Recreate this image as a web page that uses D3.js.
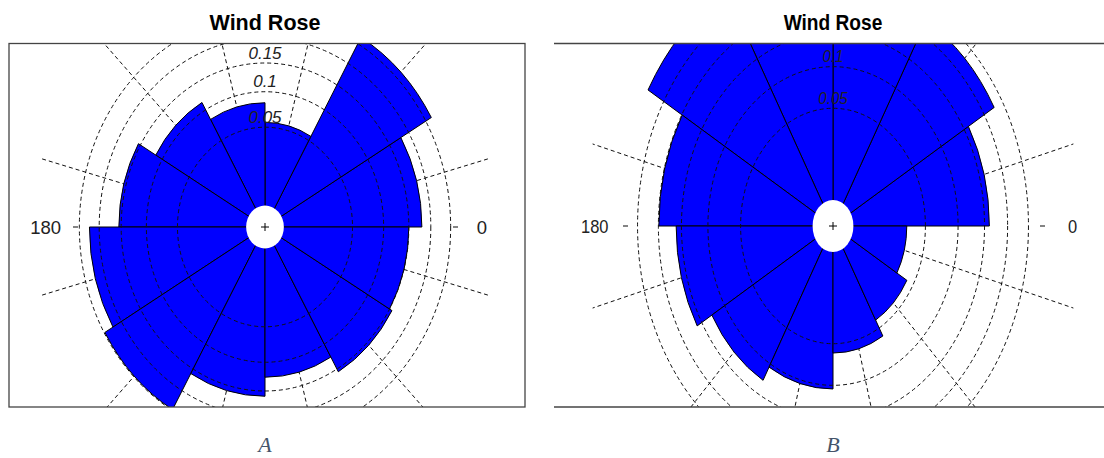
<!DOCTYPE html>
<html>
<head>
<meta charset="utf-8">
<script src="https://cdn.jsdelivr.net/npm/d3@7"></script>
<style>
  html, body { margin: 0; padding: 0; background: #fff; }
  svg { display: block; }
</style>
</head>
<body>
<svg id="chart" width="1104" height="458"></svg>
<script>
// Direction sectors (degrees, counter-clockwise from east), 30° wide
const sectorStarts = [0, 30, 60, 90, 120, 150, 180, 210, 240, 270, 300, 330];
const sectorWidth = 30;

// Relative frequency per sector for each station
const freqA = [0.179, 0.267, 0.056, 0.083, 0.114, 0.155, 0.224, 0.248, 0.160, 0.125, 0.156, 0.150];
const freqB = [0.160, 0.227, 0.310, 0.330, 0.297, 0.199, 0.161, 0.127, 0.105, 0.060, 0.041, 0.028];

// Frequency circles and their labels
const ringValues = [0.05, 0.1, 0.15, 0.2, 0.25];
const ringLabels = ["0.05", "0.1", "0.15", "0.2", "0.25"];

// Reference spokes at the sector centres
const spokeAngles = [15, 45, 75, 105, 135, 165, 195, 225, 255, 285, 315, 345];

// Direction labels on the horizontal axis
const axisLabels = ["0", "180"];

const titleText = "Wind Rose";
const panelCaptions = ["A", "B"];

const panels = [
  { freq: freqA, caption: panelCaptions[0], cx: 265, cy: 227, kx: 0.877, tx: 1.0,
    rRange: [31, 211.7], hole: 21.5, spoke: 264,
    box: { x0: 9, x1: 525, y0: 43.5, y1: 407 }, sides: true,
    tickIn: 187, tickOut: 192, rightTickIn: 188, rightTickOut: 193, labelRight: 217, labelLeft: 204 },
  { freq: freqB, caption: panelCaptions[1], cx: 833, cy: 226, kx: 0.785, tx: 0.89,
    rRange: [37, 249], hole: 26, spoke: 317,
    box: { x0: 554, x1: 1110, y0: 43.5, y1: 407 }, sides: false,
    tickIn: 205, tickOut: 210, rightTickIn: 207, rightTickOut: 212, labelRight: 239.5, labelLeft: 224.5 }
];

const ringFont = 17;
const svg = d3.select("#chart");
const toRad = d => d * Math.PI / 180;

panels.forEach((p, i) => {
  const r = d3.scalePow().exponent(0.6).domain([0, 0.25]).range(p.rRange);

  const clipId = "clip" + i;
  svg.append("clipPath").attr("id", clipId)
    .append("rect")
    .attr("x", p.box.x0).attr("y", p.box.y0)
    .attr("width", p.box.x1 - p.box.x0).attr("height", p.box.y1 - p.box.y0);

  const plot = svg.append("g").attr("clip-path", `url(#${clipId})`);
  // polar drawing area, stretched horizontally by kx
  const polar = plot.append("g")
    .attr("transform", `translate(${p.cx},${p.cy}) scale(${p.kx},1)`);

  // spokes behind the bars
  polar.selectAll("line.spoke").data(spokeAngles).join("line")
    .attr("class", "spoke")
    .attr("x1", a => p.hole * Math.cos(toRad(a)))
    .attr("y1", a => -p.hole * Math.sin(toRad(a)))
    .attr("x2", a => p.spoke * Math.cos(toRad(a)))
    .attr("y2", a => -p.spoke * Math.sin(toRad(a)))
    .attr("stroke", "#111").attr("stroke-width", 1)
    .attr("stroke-dasharray", "4,3")
    .attr("vector-effect", "non-scaling-stroke");

  // sector bars
  const arc = d3.arc().innerRadius(0);
  polar.selectAll("path.bar").data(sectorStarts.map((s, k) => ({ s, v: p.freq[k] }))).join("path")
    .attr("class", "bar")
    .attr("d", d => arc({
      outerRadius: r(d.v),
      startAngle: Math.PI / 2 - toRad(d.s + sectorWidth),
      endAngle: Math.PI / 2 - toRad(d.s)
    }))
    .attr("fill", "#0000ff")
    .attr("stroke", "#000").attr("stroke-width", 1)
    .attr("stroke-linejoin", "miter")
    .attr("vector-effect", "non-scaling-stroke");

  // frequency circles
  polar.selectAll("circle.ring").data(ringValues).join("circle")
    .attr("class", "ring")
    .attr("r", v => r(v))
    .attr("fill", "none")
    .attr("stroke", "#111").attr("stroke-width", 1)
    .attr("stroke-dasharray", "4,3")
    .attr("vector-effect", "non-scaling-stroke");

  // calm centre
  polar.append("circle").attr("r", p.hole).attr("fill", "#fff");
  const plus = plot.append("g").attr("transform", `translate(${p.cx},${p.cy})`);
  plus.append("line").attr("x1", -4).attr("x2", 4).attr("y1", 0).attr("y2", 0)
    .attr("stroke", "#000").attr("stroke-width", 1);
  plus.append("line").attr("x1", 0).attr("x2", 0).attr("y1", -4).attr("y2", 4)
    .attr("stroke", "#000").attr("stroke-width", 1);

  // circle labels at the top, only those that fit inside the frame
  const labelled = ringValues
    .map((v, k) => ({ v, text: ringLabels[k], y: p.cy - r(v) - 4.5 }))
    .filter(d => d.y - ringFont * 0.75 > p.box.y0);
  plot.selectAll("text.ringlab").data(labelled).join("text")
    .attr("class", "ringlab")
    .attr("transform", d => `translate(${p.cx},${d.y}) scale(${p.tx},1)`)
    .attr("text-anchor", "middle")
    .attr("font-family", "Liberation Sans, Arial, sans-serif")
    .attr("font-style", "italic")
    .attr("font-size", ringFont)
    .attr("fill", "#222")
    .text(d => d.text);

  // plot frame
  const frame = svg.append("g").attr("fill", "none").attr("stroke", "#444").attr("stroke-width", 1.3);
  if (p.sides) {
    frame.append("rect").attr("x", p.box.x0).attr("y", p.box.y0)
      .attr("width", p.box.x1 - p.box.x0).attr("height", p.box.y1 - p.box.y0);
  } else {
    frame.append("line").attr("x1", p.box.x0).attr("x2", p.box.x1).attr("y1", p.box.y0).attr("y2", p.box.y0);
    frame.append("line").attr("x1", p.box.x0).attr("x2", p.box.x1).attr("y1", p.box.y1).attr("y2", p.box.y1);
  }

  // horizontal axis ticks and direction labels
  const ax = svg.append("g");
  ax.append("line").attr("x1", p.cx - p.tickOut).attr("x2", p.cx - p.tickIn)
    .attr("y1", p.cy).attr("y2", p.cy).attr("stroke", "#333").attr("stroke-width", 1.2);
  ax.append("line").attr("x1", p.cx + p.rightTickIn).attr("x2", p.cx + p.rightTickOut)
    .attr("y1", p.cy).attr("y2", p.cy).attr("stroke", "#333").attr("stroke-width", 1.2);
  ax.append("text")
    .attr("transform", `translate(${p.cx + p.labelRight},${p.cy + 7}) scale(${p.tx},1)`)
    .attr("text-anchor", "middle")
    .attr("font-family", "Liberation Sans, Arial, sans-serif")
    .attr("font-size", 18.5).attr("fill", "#222")
    .text(axisLabels[0]);
  ax.append("text")
    .attr("transform", `translate(${p.cx - p.labelLeft},${p.cy + 7}) scale(${p.tx},1)`)
    .attr("text-anchor", "end")
    .attr("font-family", "Liberation Sans, Arial, sans-serif")
    .attr("font-size", 18.5).attr("fill", "#222")
    .text(axisLabels[1]);

  // title
  svg.append("text")
    .attr("transform", `translate(${p.cx},30) scale(${p.tx},1)`)
    .attr("text-anchor", "middle")
    .attr("font-family", "Liberation Sans, Arial, sans-serif")
    .attr("font-weight", "bold")
    .attr("font-size", 21.5).attr("fill", "#000")
    .text(titleText);

  // panel caption
  svg.append("text")
    .attr("x", p.cx).attr("y", 452)
    .attr("text-anchor", "middle")
    .attr("font-family", "Liberation Serif, Times New Roman, serif")
    .attr("font-style", "italic")
    .attr("font-size", 22).attr("fill", "#44546a")
    .text(p.caption);
});
</script>
</body>
</html>
